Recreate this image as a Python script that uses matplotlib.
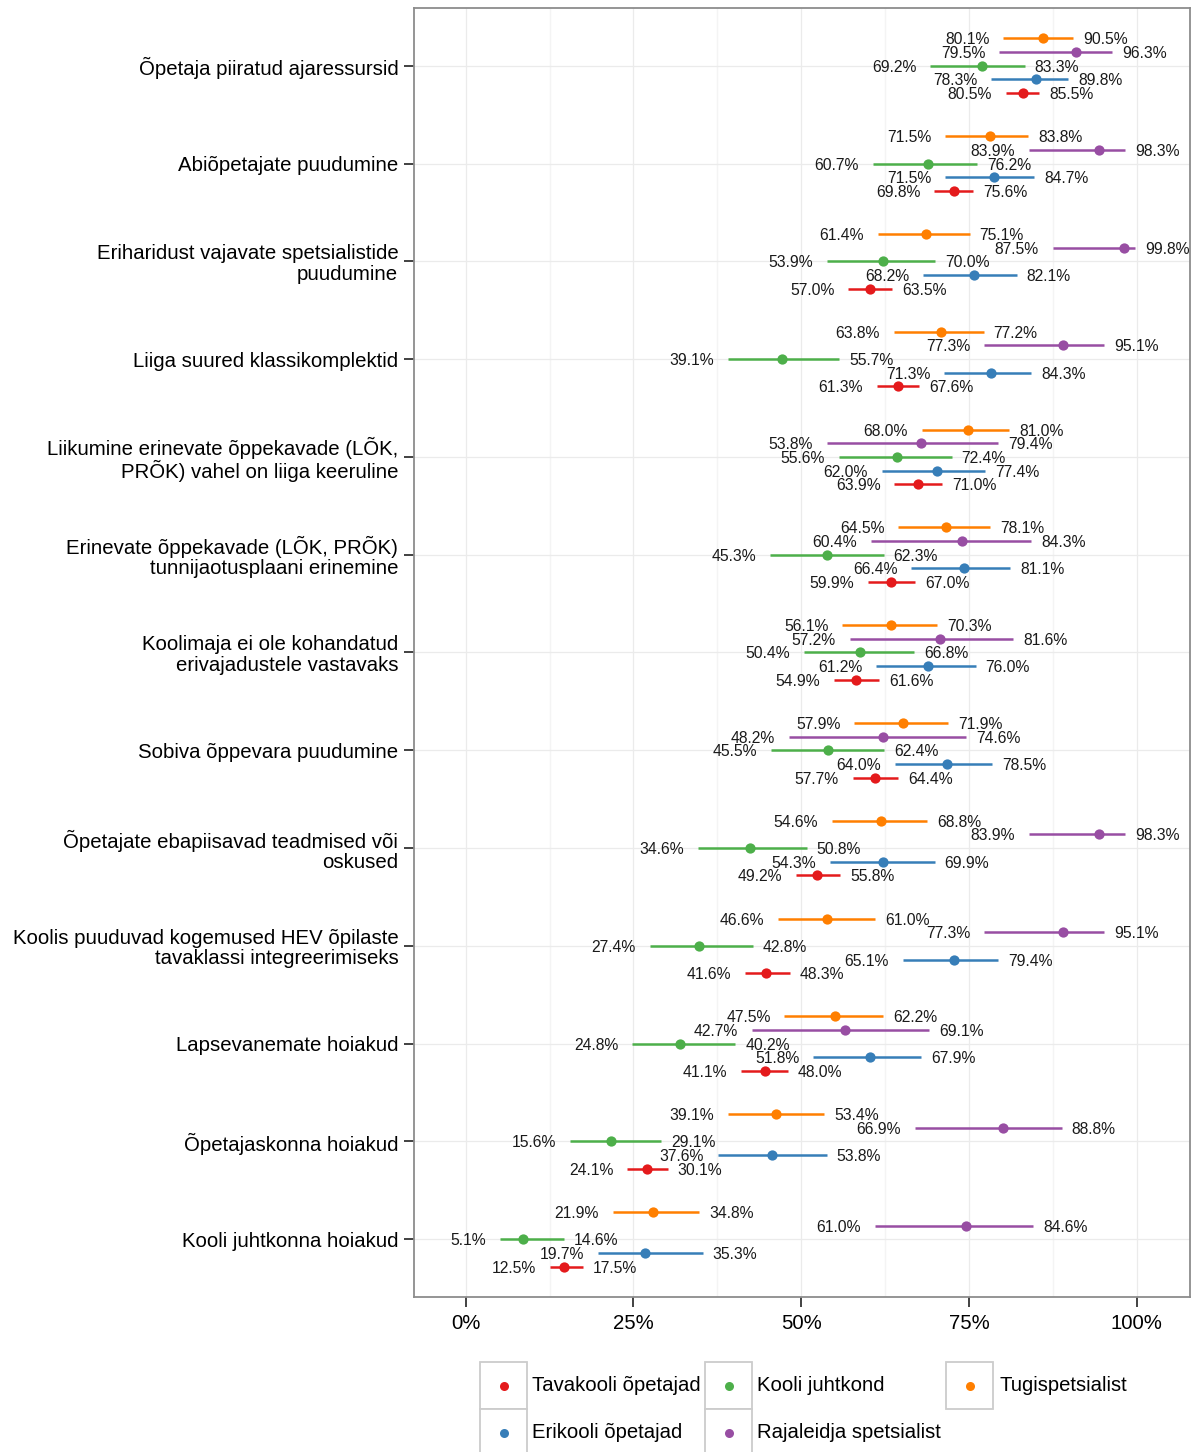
import matplotlib
matplotlib.use('Agg')
import matplotlib.pyplot as plt
from matplotlib.patches import Rectangle
from matplotlib.lines import Line2D
import numpy as np

plt.rcParams['font.family'] = ['Liberation Sans', 'DejaVu Sans']

categories = [
    "Õpetaja piiratud ajaressursid",
    "Abiõpetajate puudumine",
    "Eriharidust vajavate spetsialistide\npuudumine",
    "Liiga suured klassikomplektid",
    "Liikumine erinevate õppekavade (LÕK,\nPRÕK) vahel on liiga keeruline",
    "Erinevate õppekavade (LÕK, PRÕK)\ntunnijaotusplaani erinemine",
    "Koolimaja ei ole kohandatud\nerivajadustele vastavaks",
    "Sobiva õppevara puudumine",
    "Õpetajate ebapiisavad teadmised või\noskused",
    "Koolis puuduvad kogemused HEV õpilaste\ntavaklassi integreerimiseks",
    "Lapsevanemate hoiakud",
    "Õpetajaskonna hoiakud",
    "Kooli juhtkonna hoiakud",
]

groups = ["Tugispetsialist", "Rajaleidja spetsialist", "Kooli juhtkond",
          "Erikooli õpetajad", "Tavakooli õpetajad"]
group_colors = ["#FF7F00", "#984EA3", "#4DAF4A", "#377EB8", "#E41A1C"]

tug_low = [80.1, 71.5, 61.4, 63.8, 68.0, 64.5, 56.1, 57.9, 54.6, 46.6, 47.5, 39.1, 21.9]
tug_est = [86.1, 78.1, 68.6, 70.9, 74.9, 71.6, 63.4, 65.1, 61.9, 53.8, 55.0, 46.2, 27.9]
tug_up  = [90.5, 83.8, 75.1, 77.2, 81.0, 78.1, 70.3, 71.9, 68.8, 61.0, 62.2, 53.4, 34.8]

raj_low = [79.5, 83.9, 87.5, 77.3, 53.8, 60.4, 57.2, 48.2, 83.9, 77.3, 42.7, 66.9, 61.0]
raj_est = [90.9, 94.4, 98.1, 89.0, 67.8, 73.9, 70.7, 62.2, 94.4, 89.0, 56.5, 80.0, 74.6]
raj_up  = [96.3, 98.3, 99.8, 95.1, 79.4, 84.3, 81.6, 74.6, 98.3, 95.1, 69.1, 88.8, 84.6]

kj_low = [69.2, 60.7, 53.9, 39.1, 55.6, 45.3, 50.4, 45.5, 34.6, 27.4, 24.8, 15.6, 5.1]
kj_est = [77.0, 68.9, 62.2, 47.2, 64.3, 53.8, 58.7, 54.0, 42.4, 34.7, 32.0, 21.6, 8.6]
kj_up  = [83.3, 76.2, 70.0, 55.7, 72.4, 62.3, 66.8, 62.4, 50.8, 42.8, 40.2, 29.1, 14.6]

eri_low = [78.3, 71.5, 68.2, 71.3, 62.0, 66.4, 61.2, 64.0, 54.3, 65.1, 51.8, 37.6, 19.7]
eri_est = [85.0, 78.7, 75.7, 78.3, 70.2, 74.3, 68.9, 71.7, 62.2, 72.7, 60.2, 45.7, 26.7]
eri_up  = [89.8, 84.7, 82.1, 84.3, 77.4, 81.1, 76.0, 78.5, 69.9, 79.4, 67.9, 53.8, 35.3]

tav_low = [80.5, 69.8, 57.0, 61.3, 63.9, 59.9, 54.9, 57.7, 49.2, 41.6, 41.1, 24.1, 12.5]
tav_est = [83.1, 72.7, 60.2, 64.5, 67.4, 63.4, 58.2, 61.0, 52.4, 44.8, 44.6, 27.0, 14.7]
tav_up  = [85.5, 75.6, 63.5, 67.6, 71.0, 67.0, 61.6, 64.4, 55.8, 48.3, 48.0, 30.1, 17.5]

x_ticks = [0, 25, 50, 75, 100]
x_ticklabels = ["0%", "25%", "50%", "75%", "100%"]

series = [
    (tug_low, tug_est, tug_up),
    (raj_low, raj_est, raj_up),
    (kj_low, kj_est, kj_up),
    (eri_low, eri_est, eri_up),
    (tav_low, tav_est, tav_up),
]
offsets = [-0.28, -0.14, 0.0, 0.14, 0.28]

W, H = 1197, 1452
fig = plt.figure(figsize=(W / 100, H / 100), dpi=100)
ax = fig.add_axes([414 / W, 1 - 1297 / H, (1190 - 414) / W, (1297 - 8) / H])

ypos = np.arange(1, len(categories) + 1)

# grid
for v in [12.5, 37.5, 62.5, 87.5]:
    ax.axvline(v, color="#F4F4F4", lw=1.0, zorder=0)
for v in x_ticks:
    ax.axvline(v, color="#EBEBEB", lw=0.9, zorder=0)
for y in ypos:
    ax.axhline(y, color="#EBEBEB", lw=0.9, zorder=0)

for (lo, est, up), off, col in zip(series, offsets, group_colors):
    yy = ypos + off
    ax.hlines(yy, lo, up, color=col, lw=1.8, zorder=2)
    ax.plot(est, yy, 'o', color=col, ms=7.4, mec='none', zorder=3)
    for l, u, y in zip(lo, up, yy):
        ax.annotate(f"{l:.1f}%", (l, y), xytext=(-10.0, 0), textcoords='offset points',
                    ha='right', va='center_baseline', fontsize=11.3, color='#1a1a1a', zorder=4)
        ax.annotate(f"{u:.1f}%", (u, y), xytext=(7.2, 0), textcoords='offset points',
                    ha='left', va='center_baseline', fontsize=11.3, color='#1a1a1a', zorder=4)

ax.set_xlim(-7.7, 107.94)
ax.set_ylim(13.59, 0.41)
ax.set_xticks(x_ticks)
ax.set_xticklabels(x_ticklabels)
ax.set_yticks(ypos)
ax.set_yticklabels(categories, ha='right', linespacing=1.08)
ax.tick_params(axis='both', length=7, width=1.3, color='#333333', labelsize=14.7,
               labelcolor='black')
ax.tick_params(axis='y', pad=4.3)
ax.tick_params(axis='x', pad=5)
for s in ax.spines.values():
    s.set_color('#8C8C8C')
    s.set_linewidth(1.3)

# legend (manual, ggplot style key boxes)
leg_items = [
    (groups[4], group_colors[4], 480, 1362, 532),
    (groups[2], group_colors[2], 705, 1362, 757),
    (groups[0], group_colors[0], 946, 1362, 1000),
    (groups[3], group_colors[3], 480, 1409, 532),
    (groups[1], group_colors[1], 705, 1409, 757),
]
box = 47
for name, col, bx, by, tx in leg_items:
    fig.add_artist(Rectangle((bx / W, 1 - (by + box) / H), box / W, box / H,
                             transform=fig.transFigure, facecolor='white',
                             edgecolor='#CCCCCC', lw=1.3))
    fig.add_artist(Line2D([(bx + box / 2) / W], [1 - (by + box / 2) / H], marker='o',
                          color=col, ms=6.5, mec='none', linestyle='none',
                          transform=fig.transFigure))
    fig.text(tx / W, 1 - (by + box / 2) / H, name, ha='left', va='center',
             fontsize=14.6, color='black')

fig.savefig("out.png", dpi=100)
